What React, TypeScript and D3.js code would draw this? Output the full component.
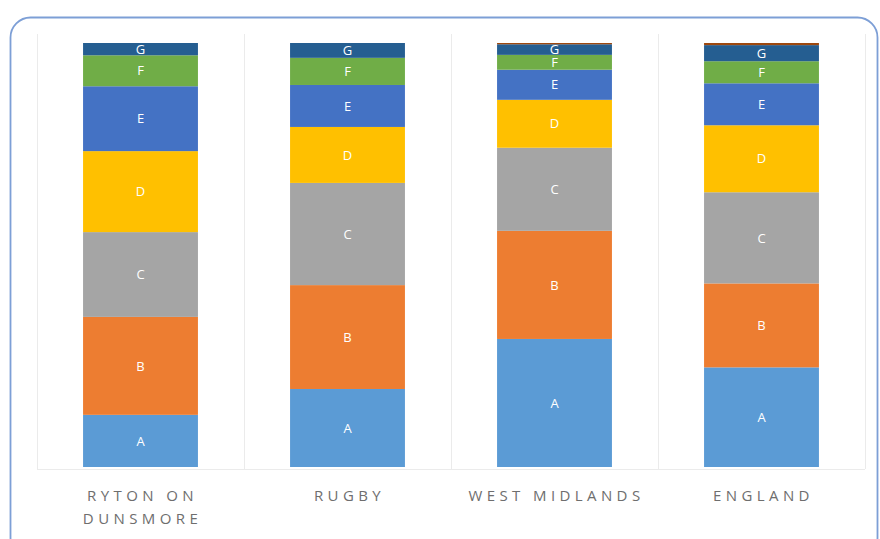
import React from "react";
import * as d3 from "d3";

const categories = ["RYTON ON|DUNSMORE", "RUGBY", "WEST MIDLANDS", "ENGLAND"];
const seriesKeys = ["A", "B", "C", "D", "E", "F", "G", "H"];
const seriesA = [12.3, 18.4, 30.2, 23.5];
const seriesB = [23.1, 24.5, 25.5, 19.8];
const seriesC = [20.0, 24.1, 19.6, 21.5];
const seriesD = [19.1, 13.2, 11.3, 15.8];
const seriesE = [15.3, 9.9, 7.1, 9.9];
const seriesF = [7.3, 6.4, 3.5, 5.2];
const seriesG = [2.9, 3.5, 2.5, 3.8];
const seriesH = [0, 0, 0.3, 0.5];
const colors = ["#5B9BD5", "#ED7D31", "#A5A5A5", "#FFC000", "#4472C4", "#70AD47", "#255E91", "#9E480E"];

const W = 880;
const H = 539;

export default function App() {
  const all = [seriesA, seriesB, seriesC, seriesD, seriesE, seriesF, seriesG, seriesH];
  const rows = categories.map((c, i) => {
    const r: any = { cat: c };
    seriesKeys.forEach((k, j) => (r[k] = all[j][i]));
    return r;
  });
  const stack = d3.stack<any>().keys(seriesKeys)(rows);
  const x = d3.scaleBand<string>().domain(categories).range([37, 865]).paddingInner(0.445).paddingOuter(0.2225);
  const y = d3.scaleLinear().domain([0, 100]).range([467, 43]);
  const step = x.step();
  const x0 = 37;

  return (
    <svg width={W} height={H} style={{ position: "absolute", left: 0, top: 0 }}>
      <rect x={0} y={0} width={W} height={H} fill="#ffffff" />
      <rect x={10.5} y={17.5} width={867} height={540} rx={20} ry={20} fill="#ffffff" stroke="#7d9fd6" strokeWidth={1.8} />
      {/* faint plot area panels */}
      <g stroke="#ebebeb" strokeWidth={1} fill="none">
        <line x1={x0} x2={x0 + step * 4} y1={469.5} y2={469.5} />
        {d3.range(5).map((i) => (
          <line key={i} x1={x0 + 0.5 + i * step} x2={x0 + 0.5 + i * step} y1={34} y2={469} />
        ))}
      </g>
      {stack.map((layer, j) => (
        <g key={layer.key} fill={colors[j]}>
          {layer.map((d, i) =>
            d[1] - d[0] > 0 ? (
              <rect key={i} x={x(categories[i])} width={x.bandwidth()} y={y(d[1])} height={y(d[0]) - y(d[1])} />
            ) : null
          )}
        </g>
      ))}
      {stack.map((layer, j) => (
        <g key={"t" + layer.key} fill="#ffffff" fontFamily="'Open Sans', sans-serif" fontSize={13} textAnchor="middle">
          {layer.map((d, i) =>
            d[1] - d[0] > 0 && layer.key !== "H" ? (
              <text key={i} x={(x(categories[i]) as number) + x.bandwidth() / 2} y={(y(d[0]) + y(d[1])) / 2} dy="0.36em">
                {layer.key}
              </text>
            ) : null
          )}
        </g>
      ))}
      <g fill="#6e6e6e" fontFamily="'Open Sans', sans-serif" fontSize={15} textAnchor="middle" letterSpacing={4.4}>
        {categories.map((c) =>
          c.split("|").map((line, k) => (
            <text key={c + k} x={(x(c) as number) + x.bandwidth() / 2 + 2} y={501 + k * 23}>
              {line}
            </text>
          ))
        )}
      </g>
    </svg>
  );
}
